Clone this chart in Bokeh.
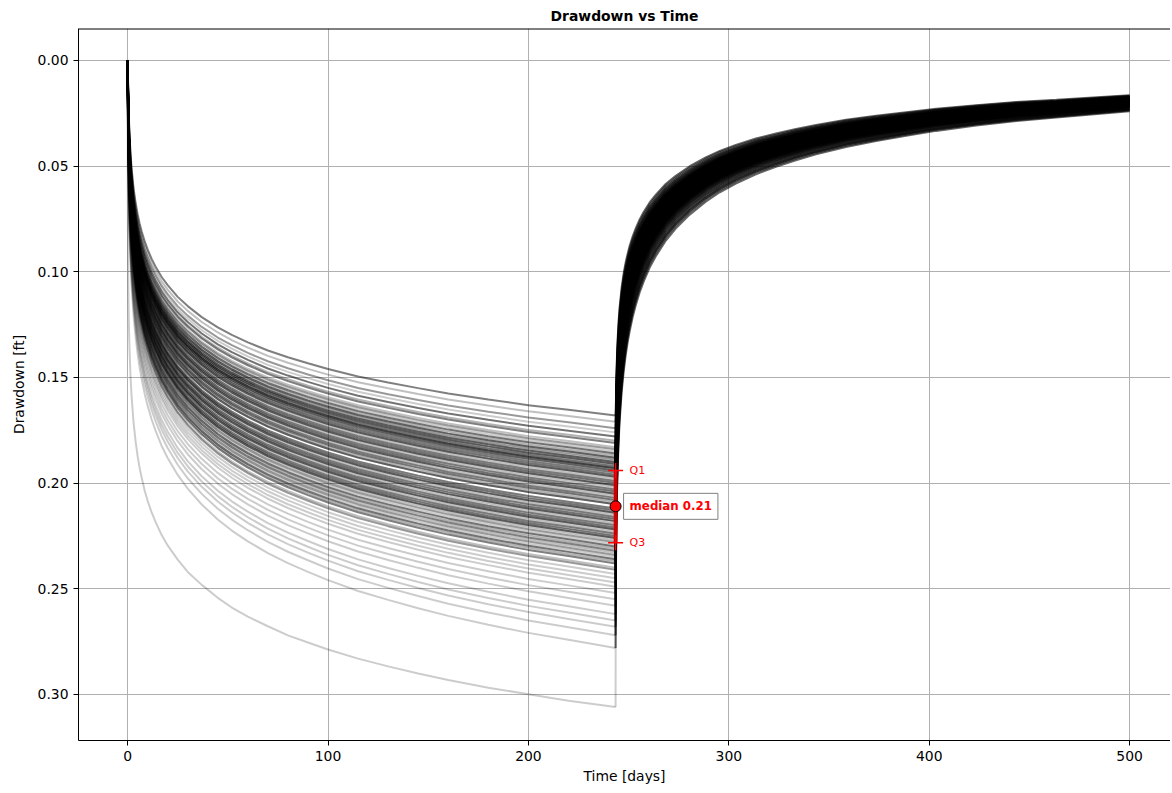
import numpy as np
from bokeh.plotting import figure
from bokeh.models import Range1d, Span, Label, PrintfTickFormatter
from bokeh.embed import file_html
from bokeh.resources import INLINE

# ---- data ----
# pumping phase: normalised drawdown profiles (fraction of drawdown at shut-in)
pump_days = [0, 0.1, 0.25, 0.5, 0.75, 1, 1.5, 2, 3, 4, 5, 6, 7, 8.5, 10, 12, 14, 17, 20, 25, 30,
             37, 45, 52, 60, 70, 80, 90, 100, 115, 130, 145, 160, 180, 200, 220, 243.5]
slow_shape = [0, 0.014, 0.066, 0.132, 0.178, 0.214, 0.266, 0.305, 0.361, 0.401, 0.433, 0.459,
              0.481, 0.509, 0.532, 0.559, 0.581, 0.610, 0.633, 0.666, 0.692, 0.723, 0.752, 0.773,
              0.794, 0.817, 0.836, 0.853, 0.869, 0.890, 0.907, 0.923, 0.938, 0.955, 0.971, 0.984, 1.0]
fast_shape = [0, 0.227, 0.314, 0.382, 0.423, 0.451, 0.491, 0.520, 0.561, 0.589, 0.612, 0.630,
              0.645, 0.665, 0.681, 0.699, 0.714, 0.734, 0.750, 0.772, 0.791, 0.811, 0.831, 0.846,
              0.860, 0.875, 0.889, 0.900, 0.911, 0.925, 0.937, 0.948, 0.958, 0.970, 0.980, 0.990, 1.0]

# recovery phase: residual drawdown as fraction of drawdown at shut-in
recovery_days = [243.5, 243.6, 243.75, 244, 244.25, 244.5, 245, 245.5, 246.5, 247.5, 248.5, 249.5,
                 250.5, 252, 253.5, 255.5, 257.5, 260.5, 263.5, 268.5, 273.5, 280.5, 288.5, 295.5,
                 303.5, 313.5, 323.5, 333.5, 343.5, 358.5, 373.5, 388.5, 403.5, 423.5, 443.5, 463.5, 500]
slow_recovery = [1.000, 0.986, 0.934, 0.868, 0.823, 0.787, 0.735, 0.696, 0.641, 0.601, 0.570, 0.545,
                 0.523, 0.496, 0.474, 0.448, 0.427, 0.400, 0.379, 0.348, 0.325, 0.298, 0.273, 0.255,
                 0.238, 0.220, 0.206, 0.193, 0.182, 0.167, 0.156, 0.146, 0.136, 0.126, 0.117, 0.111, 0.098]
fast_recovery = [1.000, 0.774, 0.686, 0.618, 0.577, 0.549, 0.510, 0.481, 0.440, 0.413, 0.390, 0.372,
                 0.358, 0.338, 0.323, 0.306, 0.292, 0.273, 0.258, 0.238, 0.221, 0.203, 0.186, 0.173,
                 0.162, 0.150, 0.139, 0.131, 0.123, 0.114, 0.106, 0.099, 0.093, 0.085, 0.080, 0.074, 0.067]

# drawdown [ft] of each realisation at shut-in
end_drawdown = [
    0.168, 0.171, 0.174, 0.176, 0.178, 0.180, 0.181, 0.183, 0.184, 0.185,
    0.186, 0.187, 0.188, 0.188, 0.189, 0.190, 0.190, 0.191, 0.191, 0.192,
    0.192, 0.193, 0.193, 0.193, 0.194, 0.194, 0.195, 0.195, 0.196, 0.197,
    0.197, 0.198, 0.199, 0.199, 0.200, 0.201, 0.201, 0.202, 0.203, 0.203,
    0.204, 0.205, 0.205, 0.206, 0.207, 0.207, 0.208, 0.209, 0.210, 0.210,
    0.212, 0.212, 0.213, 0.214, 0.214, 0.215, 0.216, 0.216, 0.217, 0.218,
    0.218, 0.219, 0.220, 0.220, 0.221, 0.222, 0.222, 0.223, 0.224, 0.224,
    0.225, 0.226, 0.226, 0.227, 0.228, 0.229, 0.230, 0.231, 0.232, 0.233,
    0.234, 0.235, 0.236, 0.237, 0.238, 0.240, 0.241, 0.243, 0.245, 0.247,
    0.249, 0.252, 0.255, 0.258, 0.262, 0.265, 0.268, 0.272, 0.278, 0.306,
]

x_ticks = [0, 100, 200, 300, 400, 500]
y_ticks = [0.0, 0.05, 0.10, 0.15, 0.20, 0.25, 0.30]

FONT = "DejaVu Sans"

# ---- build curves ----
ends = np.array(end_drawdown)
mix = np.interp(ends, [0.168, 0.28, 0.306], [0.0, 0.38, 1.0])
ss, fs = np.array(slow_shape), np.array(fast_shape)
sr, fr = np.array(slow_recovery), np.array(fast_recovery)
alpha_cycle = [0.5, 0.25, 0.4, 0.2, 0.55, 0.3]
pxs, pys, palphas = [], [], []
rxs, rys, ralphas = [], [], []
for i, (e, w) in enumerate(zip(ends, mix)):
    pxs.append(pump_days)
    pys.append(e * ((1 - w) * ss + w * fs))
    a = alpha_cycle[i % len(alpha_cycle)] if e < 0.245 else 0.2
    palphas.append(a)
    rxs.append(recovery_days)
    rys.append(e * ((1 - w) * sr + w * fr))
    ralphas.append(max(a, 0.6) if e < 0.3 else 0.2)

shut_in = pump_days[-1]
q1, med, q3 = np.percentile(ends, [25, 50, 75])

p = figure(width=1170, height=786, output_backend="svg", toolbar_location=None,
           x_range=Range1d(-24.5, 520.4), y_range=Range1d(0.3218, -0.0151),
           min_border_left=78, min_border_right=0, min_border_top=28, min_border_bottom=45,
           title="Drawdown vs Time")
p.title.align = "center"
p.title.text_font = FONT
p.title.text_font_size = "13.9px"
p.title.text_font_style = "bold"
p.title.text_color = "black"
p.title.standoff = 10
p.outline_line_color = None

for ax in (p.xaxis, p.yaxis):
    ax.major_label_text_font = FONT
    ax.major_label_text_font_size = "13.9px"
    ax.major_label_text_color = "black"
    ax.axis_label_text_font = FONT
    ax.axis_label_text_font_size = "13.9px"
    ax.axis_label_text_font_style = "normal"
    ax.axis_label_text_color = "black"
    ax.axis_line_color = "black"
    ax.major_tick_line_color = "black"
    ax.minor_tick_line_color = None
    ax.major_tick_out = 5
    ax.major_tick_in = 0
    ax.axis_label_standoff = 4

p.xaxis.ticker = x_ticks
p.yaxis.ticker = y_ticks
p.yaxis.formatter = PrintfTickFormatter(format="%.2f")
p.xaxis.axis_label = "Time [days]"
p.yaxis.axis_label = "Drawdown [ft]"
p.yaxis.axis_label_standoff = 8

p.grid.grid_line_color = "#b0b0b0"
p.grid.grid_line_width = 1

p.add_layout(Span(location=-0.0151, dimension="width", line_color="black", line_width=2))

p.multi_line(pxs, pys, line_color="black", line_alpha=palphas, line_width=2)
p.multi_line(rxs, rys, line_color="black", line_alpha=ralphas, line_width=2)

# quartile marker
p.segment(x0=[shut_in], y0=[q1], x1=[shut_in], y1=[q3], line_color="red", line_width=4, line_alpha=0.8)
p.scatter(x=[shut_in, shut_in], y=[q1, q3], marker="cross", size=15, line_color="red", line_width=1.5)
p.scatter(x=[shut_in], y=[med], marker="circle", size=11, fill_color="red", line_color="black", line_width=1)

for val, txt in ((q1, "Q1"), (q3, "Q3")):
    p.add_layout(Label(x=shut_in, y=val, x_offset=14, text=txt, text_color="red",
                       text_font=FONT, text_font_size="11px", text_baseline="middle"))
p.add_layout(Label(x=shut_in, y=med, x_offset=8, text=f"median {med:.2f}", text_color="red",
                   text_font=FONT, text_font_size="11.8px", text_font_style="bold",
                   text_baseline="middle", background_fill_color="white",
                   border_line_color="#808080", border_line_width=1, padding=6))

open("out.html", "w").write(file_html(p, INLINE))
